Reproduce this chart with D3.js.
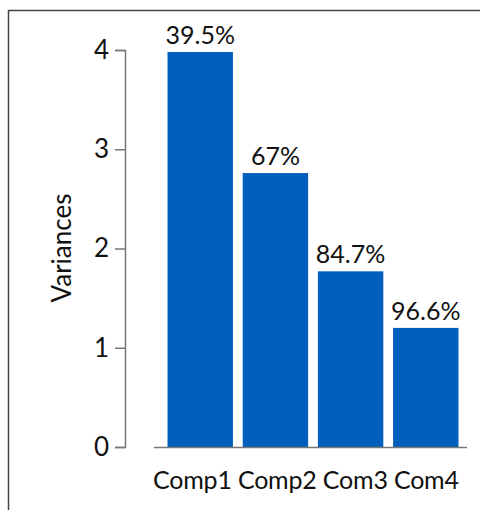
<!DOCTYPE html>
<html>
<head>
<meta charset="utf-8">
<script src="https://cdn.jsdelivr.net/npm/d3@7"></script>
<style>
  body { margin: 0; background: #fff; }
  text { font-family: Lato, "Open Sans", sans-serif; fill: #111; }
</style>
</head>
<body>
<div class="B"></div>
<script>
var categories = ['Comp1', 'Comp2', 'Com3', 'Com4'];
var variances = [3.98, 2.76, 1.77, 1.20];
var cumLabels = ['39.5%', '67%', '84.7%', '96.6%'];
var yTicks = [0, 1, 2, 3, 4];

var width = 480, height = 510;

var svg = d3.select('.B').append('svg')
    .attr('width', width)
    .attr('height', height);

// frame around the plot
svg.append('rect')
    .attr('x', 8.5).attr('y', 10.5)
    .attr('width', 520).attr('height', 540)
    .style('fill', 'none')
    .style('stroke', '#444')
    .style('stroke-width', 1.5);

var y = d3.scaleLinear().domain([0, 4]).range([447, 50]);

var x = d3.scaleBand()
    .domain(categories)
    .range([163, 463])
    .paddingInner(0.13)
    .paddingOuter(0.06);

// y axis
var yAxis = svg.append('g')
    .attr('transform', 'translate(125,0)')
    .call(d3.axisLeft(y).tickValues(yTicks).tickSize(10).tickPadding(6).tickFormat(d3.format('d')));
yAxis.select('.domain').style('stroke', '#777').style('stroke-width', 1.5);
yAxis.selectAll('.tick line').style('stroke', '#777').style('stroke-width', 1.5);
yAxis.selectAll('.tick text')
    .style('font-size', '26px')
    .style('fill', '#111')
    .style('font-family', 'Lato, sans-serif');

// axis title
svg.append('text')
    .text('Variances')
    .attr('transform', 'translate(71,248) rotate(-90)')
    .attr('text-anchor', 'middle')
    .style('font-size', '26px');

// bars
svg.append('g').selectAll('rect')
    .data(variances)
    .enter()
    .append('rect')
    .attr('x', function (d, i) { return x(categories[i]); })
    .attr('y', function (d) { return y(d); })
    .attr('width', x.bandwidth())
    .attr('height', function (d) { return y(0) - y(d); })
    .style('fill', '#005ebd');

// baseline
var base = [x.range()[0] - 9, x.range()[1] + 4];
svg.append('line')
    .attr('x1', base[0]).attr('x2', base[1])
    .attr('y1', y(0) + 0.5).attr('y2', y(0) + 0.5)
    .style('stroke', '#777')
    .style('stroke-width', 1.5);

// cumulative % labels
svg.append('g').selectAll('text')
    .data(cumLabels)
    .enter()
    .append('text')
    .text(function (d) { return d; })
    .attr('x', function (d, i) { return x(categories[i]) + x.bandwidth() / 2; })
    .attr('y', function (d, i) { return y(variances[i]) - 8; })
    .attr('text-anchor', 'middle')
    .style('font-size', '25px');

// category labels, written as one line like the original
svg.append('text')
    .text(categories.join(' '))
    .attr('x', base[0] - 1)
    .attr('y', 489)
    .attr('text-anchor', 'start')
    .attr('textLength', 306)
    .style('font-size', '25px');
</script>
</body>
</html>
